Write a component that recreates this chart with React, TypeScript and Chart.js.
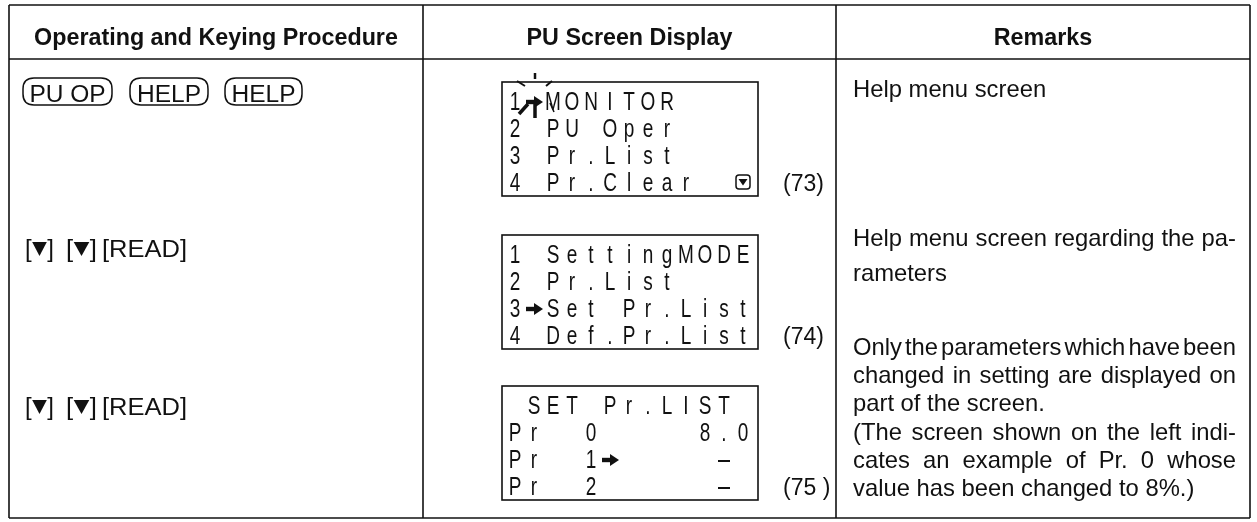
import React, { useEffect, useRef } from "react";
import { Chart, registerables } from "chart.js";

Chart.register(...registerables);

// ---------- content ----------
const headers = ["Operating and Keying Procedure", "PU Screen Display", "Remarks"];
const columnEdges = [9, 423, 836, 1250];
const rowEdges = [5, 59, 518];

const row1Keys = ["PU OP", "HELP", "HELP"];
const row1KeyLeft = [23, 130, 225];
const row1KeyRight = [112, 208, 302];
const keyRowGroups = ["[▼]", "[▼]", "[READ]"];
const keyGroupLeft = [25, 66, 102];
const keyGroupRight = [54, 97, 187];
const keyRowBaselines = [102, 257, 415];

const screen1 = ["1→MONITOR", "2 PU Oper", "3 Pr.List", "4 Pr.Clear  ▽"];
const screen2 = ["1 SettingMODE", "2 Pr.List", "3→Set Pr.List", "4 Def.Pr.List"];
const screen3 = [" SET Pr.LIST", "Pr  0     8.0", "Pr  1→     -", "Pr  2      -"];
const screens = [screen1, screen2, screen3];
const screenTops = [82, 235, 386];
const figureLabels = ["(73)", "(74)", "(75 )"];

const remarks1 = ["Help menu screen"];
const remarks2 = ["Help menu screen regarding the pa-", "rameters"];
const remarks3 = [
  "Only the parameters which have been",
  "changed in setting are displayed on",
  "part of the screen.",
  "(The screen shown on the left indi-",
  "cates an example of Pr. 0 whose",
  "value has been changed to 8%.)",
];
const remarks1Baselines = [97];
const remarks2Baselines = [246, 281];
const remarks3Baselines = [355, 383, 411, 440, 468, 496];
const remarks1Justify = [false];
const remarks2Justify = [true, false];
const remarks3Justify = [true, true, false, true, true, false];

const SANS = '"Liberation Sans", Arial, Helvetica, "DejaVu Sans", sans-serif';
const INK = "#111";

const tablePlugin = {
  id: "tablePlugin",
  beforeDraw(chart: any) {
    const ctx = chart.ctx;
    ctx.save();
    ctx.fillStyle = "#fff";
    ctx.fillRect(0, 0, chart.width, chart.height);
    ctx.restore();
  },
  afterDraw(chart: any) {
    const ctx: CanvasRenderingContext2D = chart.ctx;
    const xs = chart.scales.x;
    const ys = chart.scales.y;
    const X = (v: number) => xs.getPixelForValue(v);
    const Y = (v: number) => ys.getPixelForValue(v);

    ctx.save();
    ctx.strokeStyle = INK;
    ctx.fillStyle = INK;
    ctx.lineWidth = 1.6;

    // table frame
    const top = rowEdges[0], bottom = rowEdges[rowEdges.length - 1];
    rowEdges.forEach((r) => {
      ctx.beginPath();
      ctx.moveTo(X(columnEdges[0]), Y(r));
      ctx.lineTo(X(columnEdges[3]), Y(r));
      ctx.stroke();
    });
    columnEdges.forEach((c) => {
      ctx.beginPath();
      ctx.moveTo(X(c), Y(top));
      ctx.lineTo(X(c), Y(bottom));
      ctx.stroke();
    });

    // headers
    ctx.font = `bold 23.3px ${SANS}`;
    ctx.textAlign = "center";
    ctx.textBaseline = "alphabetic";
    headers.forEach((h, i) => {
      const cx = (X(columnEdges[i]) + X(columnEdges[i + 1])) / 2;
      ctx.fillText(h, cx, Y(45));
    });

    // row 1 keys in pills
    ctx.font = `24.5px ${SANS}`;
    ctx.lineWidth = 1.5;
    row1Keys.forEach((k, i) => {
      const l = X(row1KeyLeft[i]), r = X(row1KeyRight[i]);
      const t = Y(78), b = Y(105);
      const rad = 11;
      ctx.beginPath();
      ctx.moveTo(l + rad, t);
      ctx.lineTo(r - rad, t);
      ctx.quadraticCurveTo(r, t, r, t + rad);
      ctx.lineTo(r, b - rad);
      ctx.quadraticCurveTo(r, b, r - rad, b);
      ctx.lineTo(l + rad, b);
      ctx.quadraticCurveTo(l, b, l, b - rad);
      ctx.lineTo(l, t + rad);
      ctx.quadraticCurveTo(l, t, l + rad, t);
      ctx.stroke();
      ctx.fillText(k, (l + r) / 2, Y(keyRowBaselines[0]));
    });

    // rows 2/3 key text, with solid triangles drawn for ▼
    ctx.textAlign = "left";
    ctx.font = `23px ${SANS}`;
    const triW = 15;
    [1, 2].forEach((ri) => {
      const base = Y(keyRowBaselines[ri]);
      keyRowGroups.forEach((g, gi) => {
        const chars = Array.from(g);
        const natural = chars.reduce((s, ch) => s + (ch === "▼" ? triW : ctx.measureText(ch).width), 0);
        const l = X(keyGroupLeft[gi]);
        const sx = (X(keyGroupRight[gi]) - l) / natural;
        ctx.save();
        ctx.translate(l, base);
        ctx.scale(sx, 1);
        let x = 0;
        chars.forEach((ch) => {
          if (ch === "▼") {
            ctx.beginPath();
            ctx.moveTo(x + 0.5, -15);
            ctx.lineTo(x + triW - 0.5, -15);
            ctx.lineTo(x + triW / 2, -1);
            ctx.closePath();
            ctx.fill();
            x += triW;
          } else {
            ctx.fillText(ch, x, 0);
            x += ctx.measureText(ch).width;
          }
        });
        ctx.restore();
      });
    });

    // LCD screens
    const boxLeft = 502, boxRight = 758, boxH = 114;
    const pitch = 19;
    screens.forEach((lines, si) => {
      const bt = screenTops[si];
      ctx.lineWidth = 1.6;
      ctx.strokeRect(X(boxLeft), Y(bt), X(boxRight) - X(boxLeft), Y(bt + boxH) - Y(bt));
      lines.forEach((line, li) => {
        const base = Y(bt + 28 + li * 27);
        Array.from(line).forEach((ch, ci) => {
          const cx = X(boxLeft + 13 + ci * pitch);
          if (ch === " ") return;
          if (ch === "→") {
            const cy = base - 8;
            ctx.beginPath();
            ctx.rect(cx - 8, cy - 2.2, 9, 4.4);
            ctx.fill();
            ctx.beginPath();
            ctx.moveTo(cx, cy - 6);
            ctx.lineTo(cx + 9, cy);
            ctx.lineTo(cx, cy + 6);
            ctx.closePath();
            ctx.fill();
            return;
          }
          if (ch === "▽") {
            const s = 14;
            const l = cx - s / 2, t = base - 16;
            ctx.lineWidth = 1.5;
            ctx.beginPath();
            const rr = 3;
            ctx.moveTo(l + rr, t);
            ctx.lineTo(l + s - rr, t);
            ctx.quadraticCurveTo(l + s, t, l + s, t + rr);
            ctx.lineTo(l + s, t + s - rr);
            ctx.quadraticCurveTo(l + s, t + s, l + s - rr, t + s);
            ctx.lineTo(l + rr, t + s);
            ctx.quadraticCurveTo(l, t + s, l, t + s - rr);
            ctx.lineTo(l, t + rr);
            ctx.quadraticCurveTo(l, t, l + rr, t);
            ctx.stroke();
            ctx.beginPath();
            ctx.moveTo(cx - 4.5, t + 4);
            ctx.lineTo(cx + 4.5, t + 4);
            ctx.lineTo(cx, t + 10.5);
            ctx.closePath();
            ctx.fill();
            return;
          }
          if (ch === "-") {
            ctx.fillRect(cx - 6, base - 8, 12, 2);
            return;
          }
          ctx.save();
          ctx.translate(cx, base);
          ctx.scale(0.76, 1);
          ctx.font = `25px ${SANS}`;
          ctx.textAlign = "center";
          ctx.fillText(ch, 0, 0);
          ctx.restore();
        });
      });
      ctx.font = `23px ${SANS}`;
      ctx.textAlign = "left";
      ctx.fillText(figureLabels[si], X(783), Y(bt + 28 + 3 * 27));
    });

    // blinking cursor marks around first screen's cursor
    {
      const cx = X(boxLeft + 13 + pitch);
      const cy = Y(screenTops[0] + 28 - 9);
      const seg = (a: number, b: number, c: number, d: number, w: number) => {
        ctx.lineWidth = w;
        ctx.beginPath();
        ctx.moveTo(cx + a, cy + b);
        ctx.lineTo(cx + c, cy + d);
        ctx.stroke();
      };
      seg(1, -28, 1, -22, 2.5);
      seg(-17, -20, -9, -15, 2);
      seg(18, -20, 12, -15, 2);
      seg(-15, 13, -6, 3, 3.5);
      seg(1, 2, 1, 17, 3.5);
      seg(16, 2, 20, 11, 1.5);
    }

    // remarks
    ctx.font = `23.8px ${SANS}`;
    ctx.textAlign = "left";
    const rl = X(853), rr = X(1236);
    const drawLine = (text: string, base: number, justify: boolean) => {
      const y = Y(base);
      if (!justify) {
        ctx.fillText(text, rl, y);
        return;
      }
      const words = text.split(" ");
      const widths = words.map((w) => ctx.measureText(w).width);
      const sum = widths.reduce((a, b) => a + b, 0);
      const target = rr - rl;
      let gap = words.length > 1 ? (target - sum) / (words.length - 1) : 0;
      let sx = 1;
      const minGap = 3;
      if (gap < minGap) {
        gap = minGap;
        sx = target / (sum + minGap * (words.length - 1));
      }
      ctx.save();
      ctx.translate(rl, y);
      ctx.scale(sx, 1);
      let x = 0;
      words.forEach((w, i) => {
        ctx.fillText(w, x, 0);
        x += widths[i] + gap;
      });
      ctx.restore();
    };
    remarks1.forEach((t, i) => drawLine(t, remarks1Baselines[i], remarks1Justify[i]));
    remarks2.forEach((t, i) => drawLine(t, remarks2Baselines[i], remarks2Justify[i]));
    remarks3.forEach((t, i) => drawLine(t, remarks3Baselines[i], remarks3Justify[i]));

    ctx.restore();
  },
};

export default function App() {
  const ref = useRef<HTMLCanvasElement | null>(null);
  useEffect(() => {
    document.body.style.margin = "0";
    if (!ref.current) return;
    const chart = new Chart(ref.current, {
      type: "scatter",
      data: { datasets: [{ data: [], pointRadius: 0 }] },
      options: {
        animation: false,
        responsive: true,
        maintainAspectRatio: false,
        layout: { padding: 0 },
        plugins: { legend: { display: false }, tooltip: { enabled: false }, title: { display: false } },
        scales: {
          x: { type: "linear", min: 0, max: 1257, display: false },
          y: { type: "linear", min: 0, max: 522, reverse: true, display: false },
        },
      },
      plugins: [tablePlugin],
    });
    return () => chart.destroy();
  }, []);
  return (
    <div style={{ position: "relative", width: 1257, height: 522, background: "#fff" }}>
      <canvas ref={ref} />
    </div>
  );
}
